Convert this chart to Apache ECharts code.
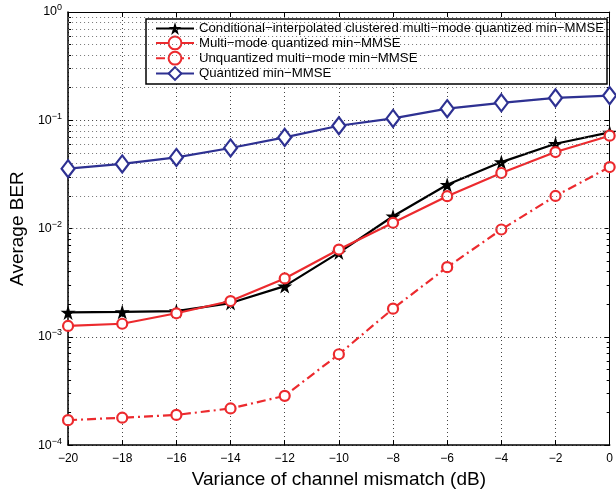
<!DOCTYPE html>
<html><head><meta charset="utf-8">
<script src="https://cdn.jsdelivr.net/npm/echarts@6/dist/echarts.min.js"></script>
<style>html,body{margin:0;padding:0;background:#fff}#c{width:616px;height:494px}</style>
</head><body><div id="c"></div>
<script>
var categories = [-20,-18,-16,-14,-12,-10,-8,-6,-4,-2,0];
var clusteredMultiMode = [0.00168,0.0017,0.00173,0.00205,0.00294,0.0060,0.0130,0.0254,0.0411,0.0607,0.0772];
var multiModeQuantized = [0.00126,0.00132,0.00165,0.00214,0.00346,0.0064,0.0113,0.0199,0.0326,0.0509,0.0720];
var unquantizedMultiMode = [0.000170,0.000179,0.000190,0.000218,0.000285,0.00069,0.00182,0.0044,0.0098,0.0200,0.0370];
var quantizedMinMMSE = [0.0357,0.0395,0.0454,0.0555,0.0695,0.0890,0.104,0.128,0.145,0.161,0.169];
var seriesNames = ['Conditional\u2212interpolated clustered multi\u2212mode quantized min\u2212MMSE','Multi\u2212mode quantized min\u2212MMSE','Unquantized multi\u2212mode min\u2212MMSE','Quantized min\u2212MMSE'];
var xTickLabels = ['\u221220','\u221218','\u221216','\u221214','\u221212','\u221210','\u22128','\u22126','\u22124','\u22122','0'];

var FONT = "'Liberation Sans', Arial, Helvetica, sans-serif";
var minorVals = [];
for (var k = -4; k <= -1; k++) for (var d = 2; d <= 9; d++) minorVals.push(+(d * Math.pow(10, k)).toPrecision(3));

function pairs(arr){ return categories.map(function(x,i){ return [x, arr[i]]; }); }
var STAR = 'path://M50,0 L61,35 L98,35 L68,57 L79,91 L50,70 L21,91 L32,57 L2,35 L39,35 Z';
var RED = '#ec2a2e', BLUE = '#2e3192';

var chart = echarts.init(document.getElementById('c'), null, {renderer:'canvas'});
var gridLine = {show:true, lineStyle:{color:'#444', type:[1,3], width:1}};
function minorAxis(pos){
  return {
    type:'log', logBase:10, min:1e-4, max:1, position:pos,
    axisLine:{show:false, onZero:false},
    axisTick:{show:true, inside:true, length:3, customValues:minorVals, lineStyle:{color:'#000'}},
    axisLabel:{show:false}, splitLine:{show:false}
  };
}
chart.setOption({
  animation:false,
  backgroundColor:'#fff',
  textStyle:{fontFamily:FONT},
  grid:{left:63, top:12, right:3, bottom:48, containLabel:false},
  legend:{
    orient:'vertical', left:146, top:19,
    backgroundColor:'#fff', borderColor:'#000', borderWidth:1.5, borderRadius:0,
    padding:[3,3,3,9], itemGap:0.5, itemWidth:38, itemHeight:16,
    textStyle:{fontFamily:FONT, fontSize:13.2, color:'#000'},
    data:seriesNames
  },
  xAxis:[{
    type:'value', min:-20, max:0, interval:2,
    name:'Variance of channel mismatch (dB)', nameLocation:'middle', nameGap:24,
    nameTextStyle:{fontFamily:FONT, fontSize:19, color:'#000'},
    axisLine:{show:true, onZero:false, lineStyle:{color:'#000', width:1.5}},
    axisTick:{show:true, inside:true, length:5, lineStyle:{color:'#000'}},
    axisLabel:{margin:8, fontSize:12, color:'#000', fontFamily:FONT,
      formatter:function(v){ var i = categories.indexOf(v); return i>=0 ? xTickLabels[i] : ''; }},
    splitLine:gridLine
  },{
    type:'value', min:-20, max:0, interval:2, position:'top',
    axisLine:{show:true, onZero:false, lineStyle:{color:'#000', width:1}},
    axisTick:{show:true, inside:true, length:5, lineStyle:{color:'#000'}},
    axisLabel:{show:false}, splitLine:{show:false}
  }],
  yAxis:[{
    type:'log', logBase:10, min:1e-4, max:1,
    name:'Average BER', nameLocation:'middle', nameGap:31,
    nameTextStyle:{fontFamily:FONT, fontSize:19, color:'#000'},
    axisLine:{show:true, onZero:false, lineStyle:{color:'#000', width:1.5}},
    axisTick:{show:true, inside:true, length:5, lineStyle:{color:'#000'}},
    axisLabel:{margin:6, color:'#000',
      formatter:function(v){ var e = Math.round(Math.log10(v)); return '{b|10}{s|' + (e<0 ? '\u2212'+(-e) : e) + '}'; },
      rich:{b:{fontSize:12.5, fontFamily:FONT, color:'#000'}, s:{fontSize:9, fontFamily:FONT, color:'#000', padding:[0,0,8,0]}}},
    splitLine:gridLine
  },{
    type:'log', logBase:10, min:1e-4, max:1, position:'right',
    axisLine:{show:true, onZero:false, lineStyle:{color:'#000', width:1}},
    axisTick:{show:true, inside:true, length:5, lineStyle:{color:'#000'}},
    axisLabel:{show:false}, splitLine:{show:false}
  }, minorAxis('left'), minorAxis('right')],
  series:[{
    name:'minorgrid', type:'line', data:[], silent:true, z:1,
    markLine:{silent:true, symbol:'none', animation:false, label:{show:false},
      lineStyle:{color:'#777', type:[1,3], width:1},
      data:minorVals.map(function(v){ return {yAxis:v}; })}
  },{
    name:seriesNames[0], type:'line', data:pairs(clusteredMultiMode), z:3,
    symbol:STAR, symbolSize:15, lineStyle:{color:'#000', width:2.2},
    itemStyle:{color:'#000'}
  },{
    name:seriesNames[1], type:'line', data:pairs(multiModeQuantized), z:4,
    symbol:'circle', symbolSize:10, lineStyle:{color:RED, width:2.2},
    itemStyle:{color:'#fff', borderColor:RED, borderWidth:2.2}
  },{
    name:seriesNames[2], type:'line', data:pairs(unquantizedMultiMode), z:4,
    symbol:'circle', symbolSize:10, lineStyle:{color:RED, width:2.2, type:[9,4,2,4]},
    itemStyle:{color:'#fff', borderColor:RED, borderWidth:2.2}
  },{
    name:seriesNames[3], type:'line', data:pairs(quantizedMinMMSE), z:5,
    symbol:'diamond', symbolSize:[13,17], lineStyle:{color:BLUE, width:2.2},
    itemStyle:{color:'#fff', borderColor:BLUE, borderWidth:2.2}
  }]
});
</script></body></html>
